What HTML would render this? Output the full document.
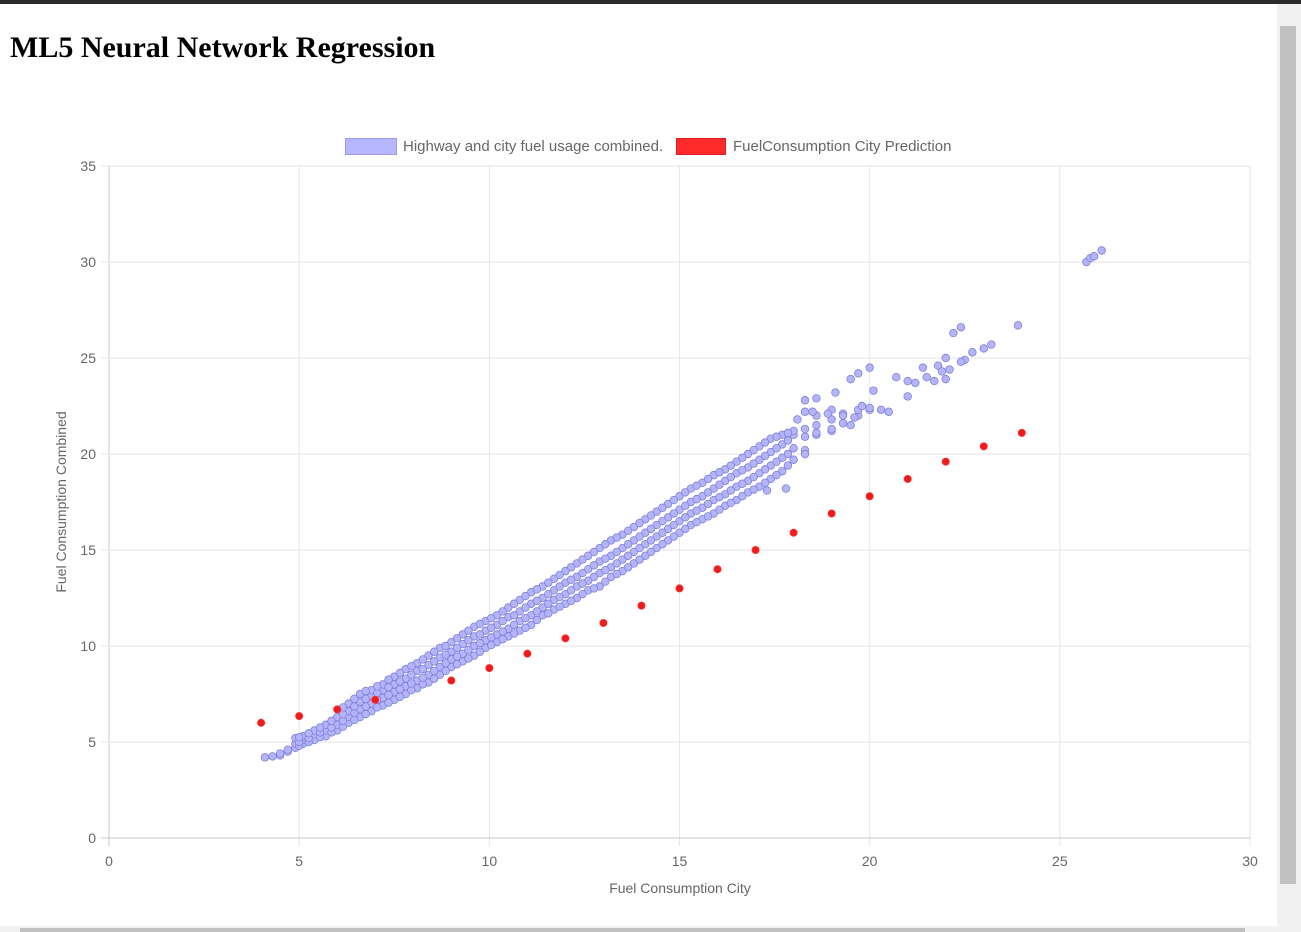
<!DOCTYPE html>
<html><head><meta charset="utf-8">
<style>
html,body{margin:0;padding:0;width:1301px;height:932px;overflow:hidden;background:#fff;font-family:"Liberation Sans",sans-serif;}
#topbar{position:absolute;left:0;top:0;width:1301px;height:4px;background:#2b2b2b;}
h1{position:absolute;left:10px;top:31px;margin:0;font-family:"Liberation Serif",serif;font-size:30px;font-weight:bold;color:#000;}
#vscroll{position:absolute;left:1277px;top:4px;width:24px;height:928px;background:#f1f1f1;}
#vthumb{position:absolute;left:1280px;top:26px;width:16px;height:858px;background:#c1c1c1;}
#hscroll{position:absolute;left:0;top:926px;width:1277px;height:6px;background:#f1f1f1;}
#hthumb{position:absolute;left:20px;top:928px;width:1225px;height:4px;background:#c1c1c1;}
svg{position:absolute;left:0;top:0;}
</style></head><body>
<div id="topbar"></div>
<h1>ML5 Neural Network Regression</h1>
<div id="vscroll"></div>
<div id="vthumb"></div>
<div id="hscroll"></div>
<div id="hthumb"></div>
<svg id="chart" width="1277" height="926"></svg>
<script>
const xTicks=[0,5,10,15,20,25,30];
const yTicks=[0,5,10,15,20,25,30,35];
const predX=[4,5,6,7,9,10,11,12,13,14,15,16,17,18,19,20,21,22,23,24];
const predY=[6.0,6.35,6.7,7.2,8.2,8.85,9.6,10.4,11.2,12.1,13.0,14.0,15.0,15.9,16.9,17.8,18.7,19.6,20.4,21.1];
const bandX=[4.1,4.3,4.5,4.7,4.9,5.1,5.4,5.7,6.0,6.3,6.6,6.9,7.2,7.5,7.8,8.1,8.4,8.7,9.0,9.3,9.6,9.9,10.2,10.5,10.8,11.1,11.4,11.7,12.0,12.3,12.6,12.9,13.2,13.5,13.8,14.1,14.4,14.7,15.0,15.3,15.6,15.9,16.2,16.5,16.8,17.1,17.4,17.7,18.0,18.3,18.6,19.0,19.3,19.7,20.0];
const bandY=[[4.2],[4.25],[4.3,4.4],[4.5,4.6],[4.7,4.9,5.2],[4.9,5.1,5.3],[5.1,5.4,5.6],[5.3,5.6,5.9],[5.6,5.9,6.3],[6.0,6.3,6.6,7.0],[6.3,6.7,7.1,7.5],[6.6,7.0,7.4,7.7],[6.9,7.3,7.7,8.0],[7.2,7.6,8.0,8.4],[7.5,7.9,8.3,8.8],[7.8,8.2,8.7,9.1],[8.1,8.5,9.0,9.5],[8.5,8.9,9.4,9.9],[8.9,9.3,9.7,10.2],[9.2,9.6,10.1,10.6],[9.5,10.0,10.5,11.0],[9.9,10.3,10.8,11.3],[10.2,10.6,11.1,11.6],[10.5,10.9,11.5,12.0],[10.8,11.3,11.8,12.4],[11.1,11.6,12.2,12.8],[11.6,12.0,12.5,13.1],[11.9,12.4,12.9,13.5],[12.2,12.7,13.3,13.9],[12.5,13.1,13.6,14.3],[12.9,13.4,14.0,14.7],[13.1,13.8,14.4,15.1],[13.6,14.1,14.7,15.5],[13.9,14.5,15.1,15.8],[14.3,14.9,15.5,16.2],[14.7,15.3,15.9,16.6],[15.1,15.7,16.3,17.0],[15.5,16.1,16.7,17.4],[15.9,16.5,17.1,17.8],[16.3,16.9,17.5,18.2],[16.6,17.2,17.8,18.5],[16.9,17.6,18.2,18.9],[17.3,17.9,18.6,19.2],[17.6,18.3,19.0,19.6],[18.0,18.6,19.3,20.0],[18.3,19.0,19.7,20.4],[18.7,19.4,20.1,20.8],[19.1,19.8,20.5,21.0],[19.7,20.3,21.0,21.2],[20.2,20.9,21.3,22.2],[21.0,21.5,22.0],[21.2,21.8,22.3],[21.6,22.1],[22.0,22.3],[22.3]];
const fillX=[5.0,5.25,5.55,5.85,6.15,6.45,6.75,7.05,7.35,7.65,7.95,8.25,8.55,8.85,9.15,9.45,9.75,10.05,10.35,10.65,10.95,11.25,11.55,11.85,12.15,12.45,12.75,13.05,13.35,13.65,13.95,14.25,14.55,14.85,15.15,15.45,15.75,16.05,16.35,16.65,16.95,17.25,17.55,17.85];
const fillY=[[4.8,5.0,5.25],[5.0,5.2,5.45],[5.25,5.5,5.75],[5.5,5.75,6.1],[5.8,6.1,6.45,6.8],[6.15,6.5,6.85,7.25],[6.45,6.85,7.25,7.65],[6.8,7.2,7.55,7.9],[7.05,7.45,7.85,8.25],[7.35,7.75,8.15,8.6],[7.7,8.05,8.5,8.95],[8.0,8.35,8.8,9.3],[8.3,8.7,9.2,9.7],[8.7,9.1,9.55,10.0],[9.05,9.45,9.9,10.4],[9.35,9.8,10.3,10.8],[9.7,10.15,10.6,11.15],[10.05,10.45,10.95,11.45],[10.35,10.75,11.3,11.8],[10.65,11.1,11.6,12.2],[10.95,11.45,12.0,12.6],[11.35,11.8,12.35,12.95],[11.7,12.2,12.7,13.3],[12.05,12.55,13.1,13.7],[12.35,12.9,13.45,14.1],[12.7,13.25,13.8,14.5],[13.0,13.6,14.2,14.9],[13.35,13.95,14.55,15.3],[13.75,14.3,14.9,15.65],[14.1,14.7,15.3,16.0],[14.5,15.1,15.7,16.4],[14.9,15.5,16.1,16.8],[15.3,15.9,16.5,17.2],[15.7,16.3,16.9,17.6],[16.1,16.7,17.3,18.0],[16.45,17.05,17.65,18.35],[16.75,17.4,18.0,18.7],[17.1,17.75,18.4,19.05],[17.45,18.1,18.8,19.4],[17.8,18.45,19.15,19.8],[18.15,18.8,19.5,20.2],[18.5,19.2,19.9,20.6],[18.9,19.6,20.3,20.9],[19.4,20.0,20.7,21.1]];
const outX=[17.3,17.8,18.3,18.6,19.5,19.8,20.3,20.5,20.7,21.0,21.0,21.2,21.4,21.7,21.8,21.9,22.0,22.1,22.2,22.4,22.5,22.7,23.2,23.0,23.9,22.0,22.4,21.5,25.7,25.8,25.9,26.1,18.3,18.6,19.1,19.5,19.7,20.0,19.0,20.1,18.9,19.3,19.6,20.0,18.1,18.5];
const outY=[18.1,18.2,20.0,21.1,21.5,22.5,22.3,22.2,24.0,23.0,23.8,23.7,24.5,23.8,24.6,24.3,25.0,24.4,26.3,26.6,24.9,25.3,25.7,25.5,26.7,23.9,24.8,24.0,30.0,30.2,30.3,30.6,22.8,22.9,23.2,23.9,24.2,24.5,21.3,23.3,22.1,22.0,21.9,22.4,21.8,22.2];
const NS="http://www.w3.org/2000/svg";
const svg=document.getElementById('chart');
const L=109,R=1250,T=166,B=838;
function sx(v){return L+(v-0)/30*(R-L);}
function sy(v){return B-(v-0)/35*(B-T);}
function mk(tag,attrs,parent){const e=document.createElementNS(NS,tag);for(const k in attrs)e.setAttribute(k,attrs[k]);(parent||svg).appendChild(e);return e;}
const grid=mk('g',{});


xTicks.forEach(t=>{const l=mk('line',{x1:sx(t),x2:sx(t),y1:T,y2:B+8,stroke:t===0?'#c8c8c8':'#e6e6e6','stroke-width':1},grid);


const tx=mk('text',{x:sx(t),y:B+28,'text-anchor':'middle','font-size':14,fill:'#666'});tx.textContent=t;

});
yTicks.forEach(t=>{const l=mk('line',{x1:L-8,x2:R,y1:sy(t),y2:sy(t),stroke:t===0?'#c8c8c8':'#e6e6e6','stroke-width':1},grid);


const tx=mk('text',{x:L-13,y:sy(t)+5,'text-anchor':'end','font-size':14,fill:'#666'});tx.textContent=t;

});
const xt=mk('text',{x:680,y:893,'text-anchor':'middle','font-size':14,fill:'#666'});xt.textContent='Fuel Consumption City';


const yt=mk('text',{x:0,y:0,'text-anchor':'middle','font-size':14,fill:'#666',transform:'translate(66,502) rotate(-90)'});yt.textContent='Fuel Consumption Combined';


const lb1=mk('rect',{x:345.5,y:138.5,width:51,height:16,fill:'rgba(170,170,255,0.85)',stroke:'#9a9af0'});


const lt1=mk('text',{x:403,y:151,'font-size':15,fill:'#666'});lt1.textContent='Highway and city fuel usage combined.';


const lb2=mk('rect',{x:676.5,y:138.5,width:49,height:16,fill:'#ff2a2a',stroke:'#e02020'});


const lt2=mk('text',{x:733,y:151,'font-size':15,fill:'#666'});lt2.textContent='FuelConsumption City Prediction';


const bg=mk('g',{});


function bpt(x,y){const c=mk('circle',{cx:sx(x),cy:sy(y),r:3.8,fill:'#b4b4fa',stroke:'#8080d8','stroke-width':0.8},bg);

}
bandX.forEach((x,i)=>bandY[i].forEach(y=>bpt(x,y)));
fillX.forEach((x,i)=>fillY[i].forEach(y=>bpt(x,y)));
outX.forEach((x,i)=>bpt(x,outY[i]));
const rg=mk('g',{});


predX.forEach((x,i)=>{const c=mk('circle',{cx:sx(x),cy:sy(predY[i]),r:3.6,fill:'#ee1c1c',stroke:'#ff3030','stroke-width':0.8},rg);

});
</script>
</body></html>
